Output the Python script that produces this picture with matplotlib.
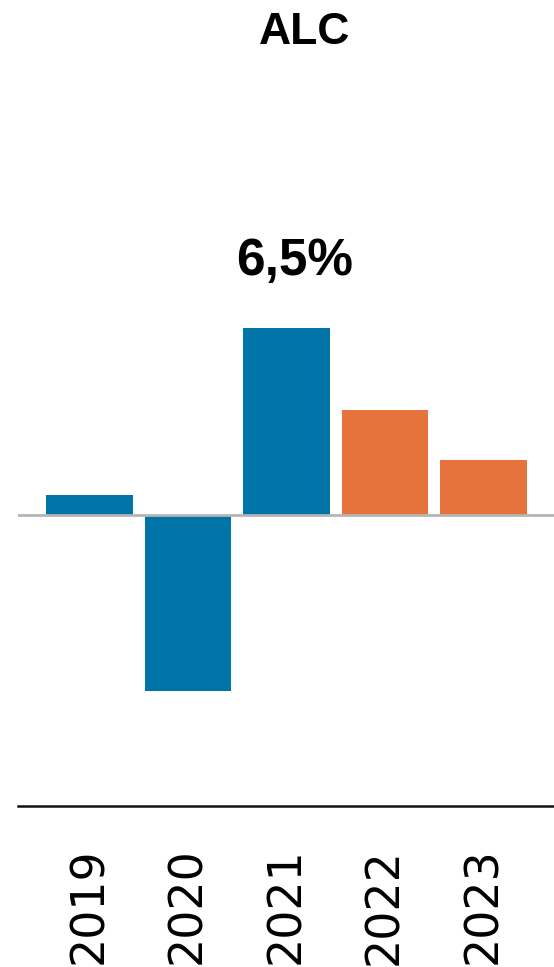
import matplotlib
matplotlib.use("Agg")
import matplotlib.pyplot as plt

# data
years = ['2019', '2020', '2021', '2022', '2023']
values = [0.7, -6.1, 6.5, 3.65, 1.9]
colors = ['#0074a6', '#0074a6', '#0074a6', '#e6723c', '#e6723c']
title = 'ALC'
highlight = '6,5%'

W, H = 554, 967
fig = plt.figure(figsize=(W / 100, H / 100), dpi=100)

# axes placed in pixel terms of the reference
left, right = 18 / W, 1.0
bottom, top = 1 - 806 / H, 1 - 250 / H
ax = fig.add_axes([left, bottom, right - left, top - bottom])

x = range(len(years))
ax.bar(x, values, width=0.88, color=colors, zorder=2)
ax.axhline(0, color='#b5b5b5', lw=2, zorder=3)

ppu = 28.8  # pixels per percentage point
ax.set_ylim(-(806 - 515) / ppu, (515 - 250) / ppu)
ax.set_xlim(-0.726, 4.716)

ax.set_xticks(list(x))
ax.set_xticklabels(years, rotation=90, fontsize=33, family='DejaVu Sans')
ax.tick_params(axis='x', length=0, pad=30)
ax.set_yticks([])
for s in ['top', 'right', 'left']:
    ax.spines[s].set_visible(False)
ax.spines['bottom'].set_linewidth(1.8)
ax.spines['bottom'].set_color('#111111')

# value label above the 2021 bar
ax.annotate(highlight, (2, values[2]), xytext=(6, 30), textcoords='offset points',
            ha='center', va='bottom', fontsize=37, fontweight='bold',
            family='Liberation Sans')

fig.text(305 / W, 1 - 33 / H, title, ha='center', va='center', fontsize=32,
         fontweight='bold', family='Liberation Sans')

fig.savefig('out.png', dpi=100)
